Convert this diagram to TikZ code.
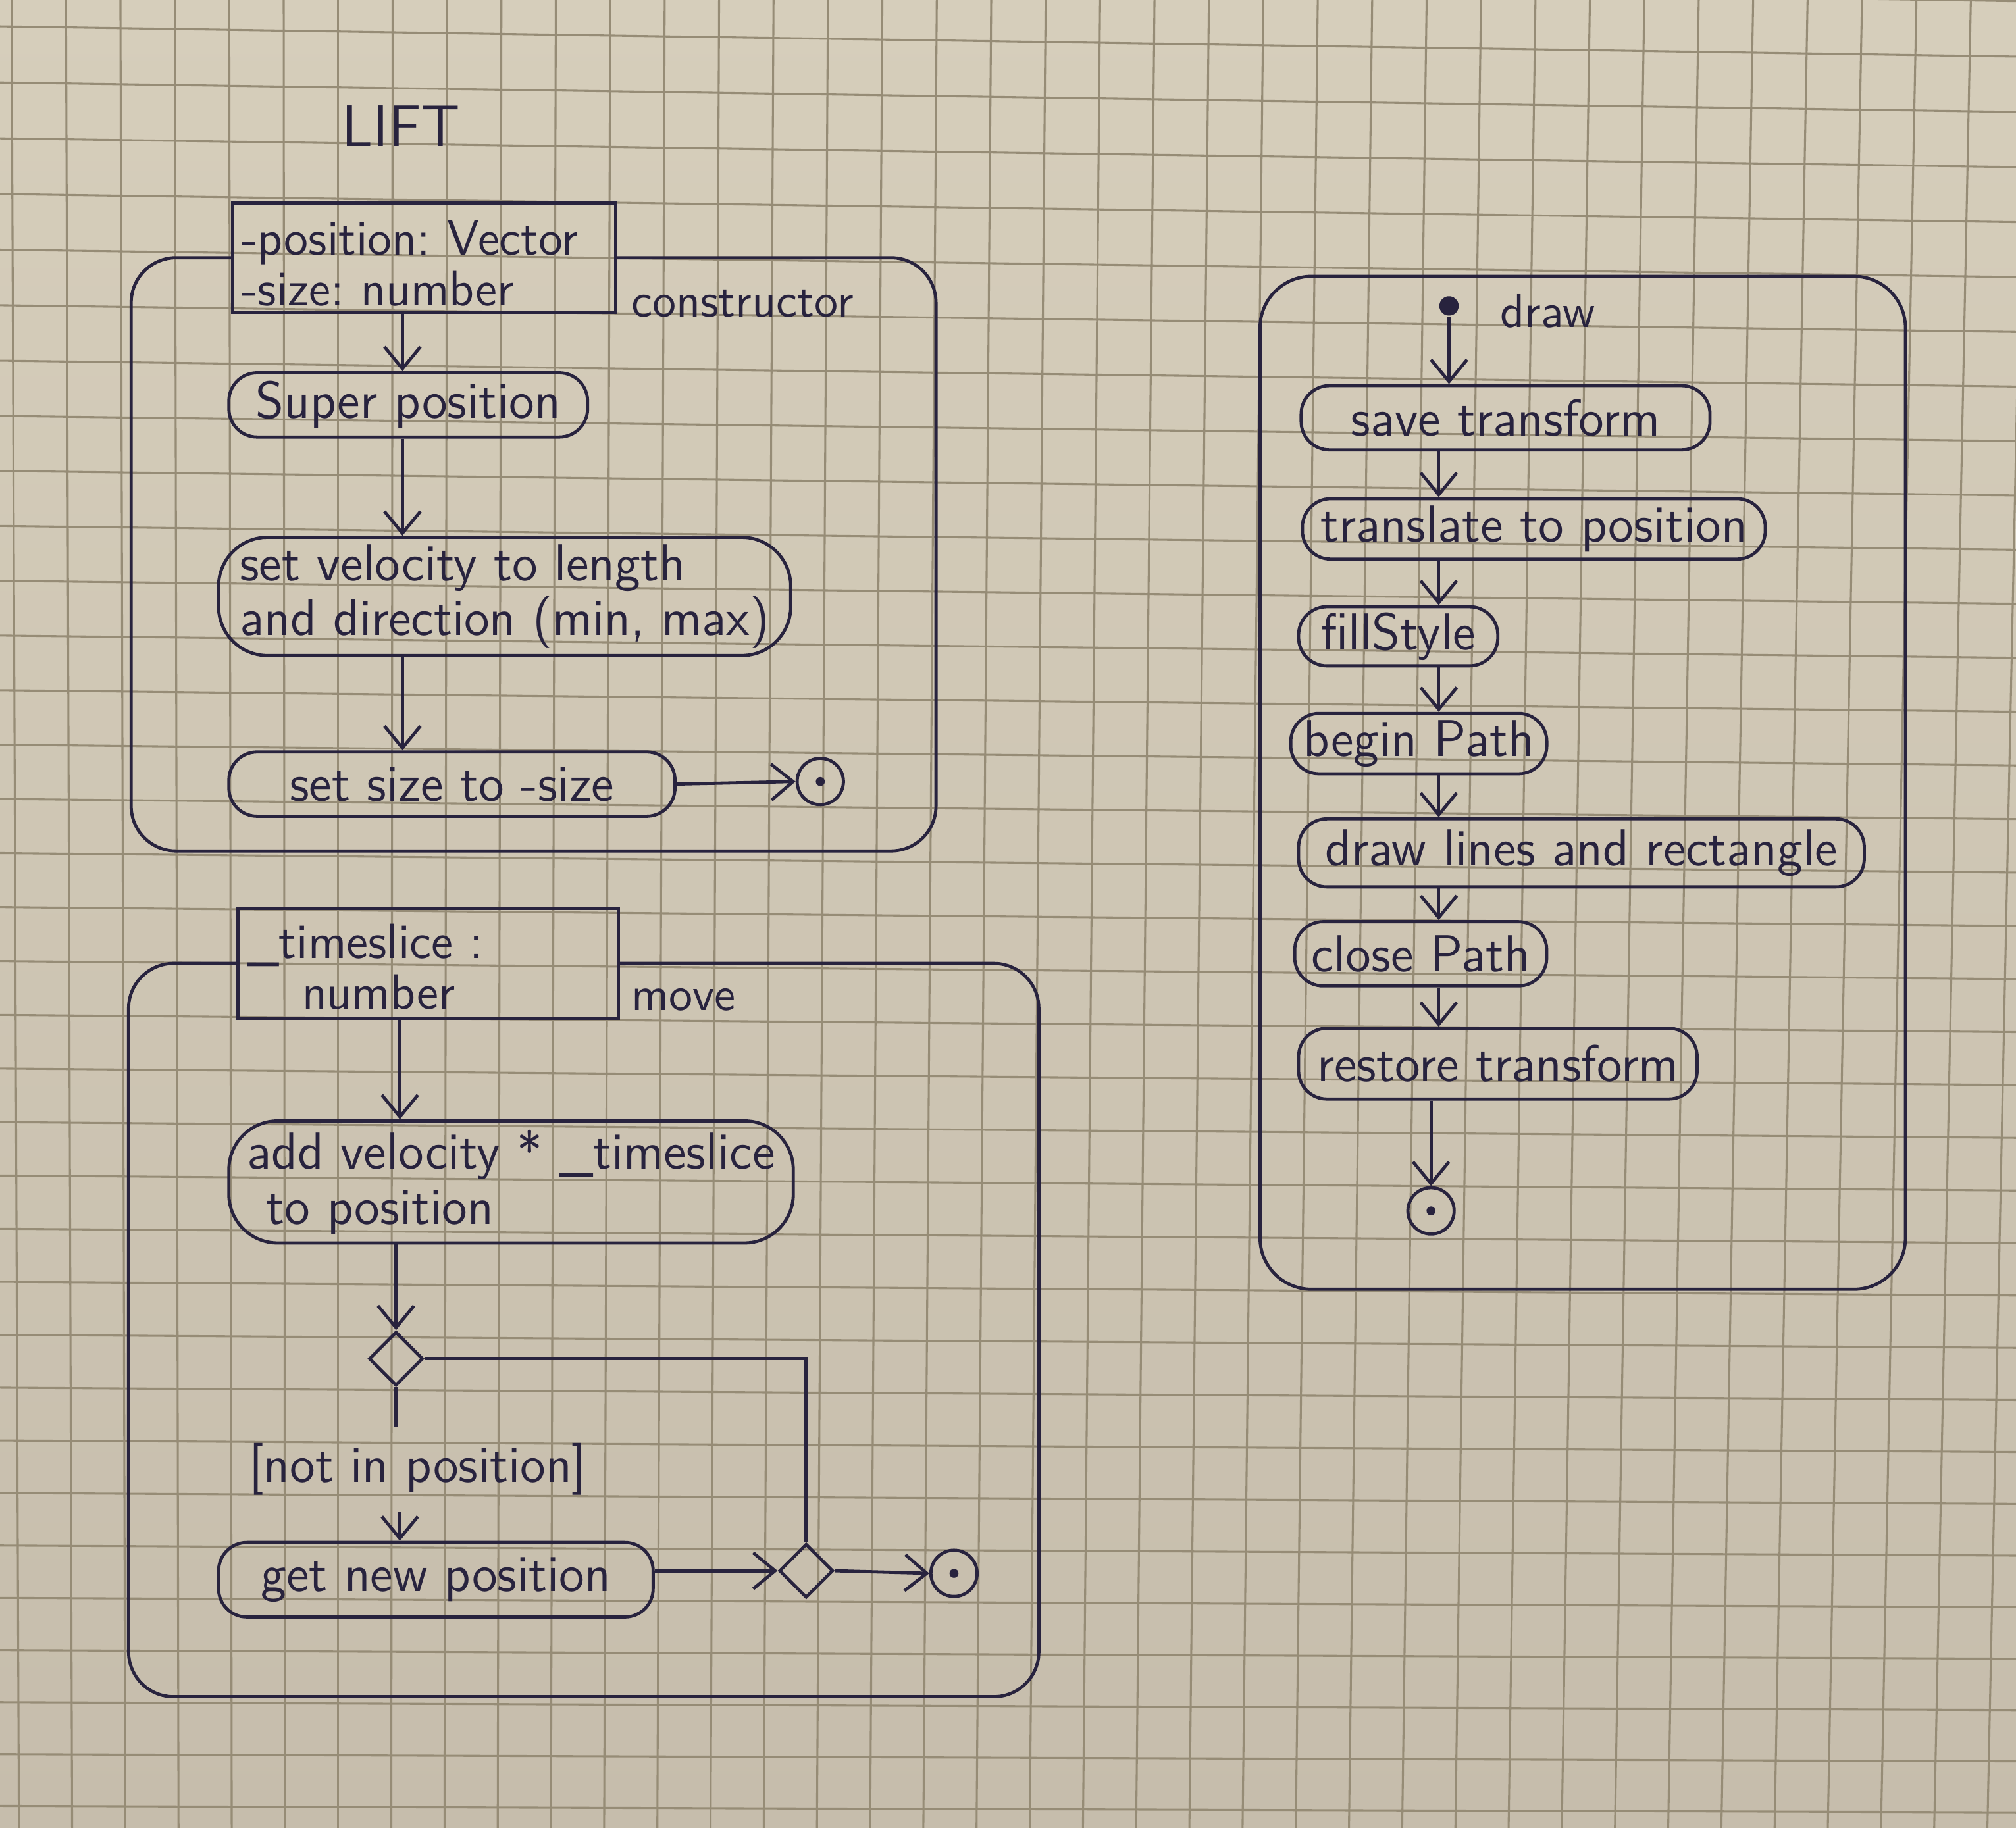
\documentclass[tikz,border=0pt]{standalone}
\usepackage{tikz}
\usetikzlibrary{arrows.meta,shapes.geometric,positioning,calc}
\renewcommand{\familydefault}{\sfdefault}
\frenchspacing
\definecolor{Ink}{RGB}{40,35,62}
\definecolor{PaperTop}{RGB}{214,206,187}
\definecolor{PaperBot}{RGB}{198,189,172}
\definecolor{GridLine}{RGB}{150,140,118}

\tikzset{
  gridline/.style={draw=GridLine, line width=0.45pt},
  pill/.style={draw, rounded corners=2.2mm, inner xsep=1mm, inner ysep=0.3mm, align=left},
  params/.style={draw, inner xsep=0.7mm, inner ysep=0mm, align=left, minimum height=8.5mm,
    font=\fontsize{11}{11.2}\selectfont},
  opname/.style={anchor=west, font=\fontsize{10.5}{12}\selectfont},
  frame/.style={draw, rounded corners=3.5mm},
  flow/.style={-{Straight Barb[length=1.7mm,width=2.8mm]}},
  decision/.style={diamond, draw, inner sep=0pt, minimum width=4.2mm, minimum height=4.2mm},
  initial/.style={circle, fill, inner sep=0pt, minimum size=1.5mm},
  final/.style={circle, draw, inner sep=0pt, minimum size=3.6mm,
    path picture={\fill (path picture bounding box.center) circle (0.35mm);}},
}

\begin{document}
\begin{tikzpicture}[x=0.1mm, y=-0.1mm, color=Ink, line width=0.7pt,
  font=\fontsize{11.5}{12.2}\selectfont]
\useasboundingbox (0,0) rectangle (1568,1422);
% paper
\shade[top color=PaperTop, bottom color=PaperBot] (0,0) rectangle (1568,1422);
\foreach \k in {0,...,37}
  \draw[gridline] ({9+42.33*\k},0) -- ({14.7+41.38*\k},1422);
\foreach \j in {-1,...,33}
  \draw[gridline] (0,{20.5+43.6*\j-0.0515*\j*(\j-1)}) -- (1568,{44+43.6*\j-0.0515*\j*(\j-1)-0.5606*\j});
%
% constructor
\node[font=\fontsize{13}{15}\selectfont] (lift) at (312,98) {LIFT};
\node[params, text width=28.4mm] (ctorparams) at (330,200.5)
  {\rule{0pt}{3.6mm}-position: Vector\\-size: number};
\node[opname] (ctorname) at (478,236) {constructor};
\draw[frame] (ctorparams.west) -| (102,662) -| (ctorparams.east -| 728,0) -- (ctorparams.east);
\node[pill, minimum width=27.9mm, minimum height=5mm] (super) at (317.5,315) {Super position};
\node[pill, rounded corners=3.8mm, minimum width=44.5mm, minimum height=9.2mm] (velocity) at (392.5,464)
  {set velocity to length\\and direction (min, max)};
\node[pill, minimum width=34.7mm, minimum height=5mm] (setsize) at (351.5,610) {set size to -size};
\node[final] (ctorend) at (638,608) {};
\coordinate (ctorspine) at (313,0);
\draw[flow] (ctorparams.south -| ctorspine) -- (super.north -| ctorspine);
\draw[flow] (super.south -| ctorspine) -- (velocity.north -| ctorspine);
\draw[flow] (velocity.south -| ctorspine) -- (setsize.north -| ctorspine);
\draw[flow] (setsize.east) -- (ctorend.west);
%
% move
\node[params, text width=28.2mm] (moveparams) at (333,749.5)
  {\rule{0pt}{3.2mm}\_timeslice :\\\hspace*{4.3mm}number};
\node[opname] (movename) at (478,778) {move};
\draw[frame] (moveparams.west) -| (100,1320) -| (moveparams.east -| 808,0) -- (moveparams.east);
\node[pill, rounded corners=3.8mm, minimum width=43.9mm, minimum height=9.5mm] (addvel) at (397.5,919.5)
  {add velocity * \_timeslice\\\hspace*{1.5mm}to position};
\node[decision] (merge) at (308,1057) {};
\node (guard) at (325,1143) {[not in position]};
\node[pill, minimum width=33.8mm, minimum height=5.8mm] (getpos) at (339,1229) {get new position};
\node[decision] (join) at (627,1222) {};
\node[final] (moveend) at (742,1224) {};
\coordinate (movespine) at (311,0);
\draw[flow] (moveparams.south -| movespine) -- (addvel.north -| movespine);
\draw[flow] (addvel.south -| merge) -- (merge.north);
\draw (merge.south) -- (merge.south |- guard.north);
\draw[flow] (guard.south -| movespine) -- (getpos.north -| movespine);
\draw (merge.east) -| (join.north);
\draw[flow] (getpos.east |- join.west) -- (join.west);
\draw[flow] (join.east) -- (moveend.west);
%
% draw
\draw[frame, rounded corners=4mm] (980,215) rectangle (1482,1003);
\node[initial] (start) at (1127,238) {};
\node[opname] (drawname) at (1154,242) {draw};
\node[pill, minimum width=31.8mm, minimum height=5mm] (save) at (1171,325) {save transform};
\node[pill, minimum width=36mm, minimum height=4.7mm] (translate) at (1193,411.5) {translate to position};
\node[pill, minimum width=15.5mm, minimum height=4.6mm] (fill) at (1087.5,495) {fillStyle};
\node[pill, minimum width=19.3mm, minimum height=4.7mm] (begin) at (1103.5,578.5) {begin Path};
\node[pill, minimum width=44mm, minimum height=5.3mm] (lines) at (1230,663.5) {draw lines and rectangle};
\node[pill, minimum width=19.6mm, minimum height=5mm] (close) at (1105,742) {close Path};
\node[pill, minimum width=31mm, minimum height=5.5mm] (restore) at (1165,827.5) {restore transform};
\node[final] (drawend) at (1113,942) {};
\coordinate (drawspine) at (1119,0);
\draw[flow] (start) -- (start |- save.north);
\draw[flow] (save.south -| drawspine) -- (translate.north -| drawspine);
\draw[flow] (translate.south -| drawspine) -- (fill.north -| drawspine);
\draw[flow] (fill.south -| drawspine) -- (begin.north -| drawspine);
\draw[flow] (begin.south -| drawspine) -- (lines.north -| drawspine);
\draw[flow] (lines.south -| drawspine) -- (close.north -| drawspine);
\draw[flow] (close.south -| drawspine) -- (restore.north -| drawspine);
\draw[flow] (restore.south -| drawend) -- (drawend.north);
\end{tikzpicture}
\end{document}
